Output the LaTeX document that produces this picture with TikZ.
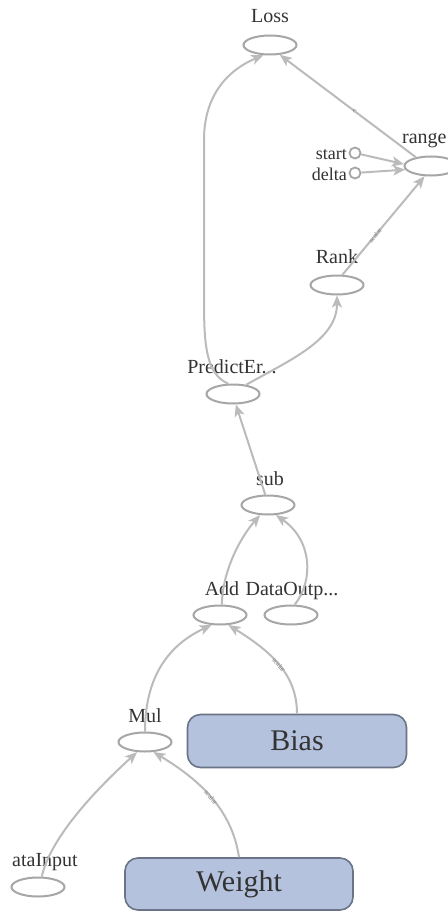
\documentclass[tikz,border=0pt]{standalone}
\usepackage{fontspec}
\setmainfont{Liberation Serif}
\usetikzlibrary{shapes.geometric,arrows.meta}
\definecolor{edgegray}{HTML}{BBBBBB}
\definecolor{opgray}{HTML}{A6A6A6}
\definecolor{boxfill}{HTML}{B4C2DD}
\definecolor{boxline}{HTML}{6B7487}
\definecolor{txt}{HTML}{333333}
\begin{document}
\begin{tikzpicture}[x=1pt,y=-1pt,
  op/.style={ellipse, draw=opgray, line width=2pt, minimum width=53pt, minimum height=19pt, inner sep=0pt},
  lbl/.style={font=\fontsize{20}{20}\selectfont, text=txt, inner sep=0pt, anchor=base},
  smlbl/.style={font=\fontsize{18}{18}\selectfont, text=txt, inner sep=0pt, anchor=base east},
  varbox/.style={rounded corners=13pt, draw=boxline, fill=boxfill, line width=1.6pt, font=\fontsize{30}{30}\selectfont, text=txt},
  edge/.style={draw=edgegray, line width=2pt, -{Stealth[length=12pt,width=10pt,inset=3pt]}},
  constc/.style={circle, draw=opgray, line width=1.8pt, minimum size=11pt, inner sep=0pt},
  elab/.style={font=\fontsize{7}{7}\selectfont, text=gray, sloped, inner sep=0pt}]
\useasboundingbox (0,0) rectangle (447,915);
\fill[white] (0,0) rectangle (447,915);
% operation nodes
\node[op] (Loss) at (270,45) {};
\node[lbl] (LossL) at (270,23) {Loss};
\node[op] (range) at (431,166) {};
\node[lbl, anchor=base west] (rangeL) at (402,143) {range};
\node[constc] (start) at (355,153) {};
\node[smlbl] (startL) at (347,159) {start};
\node[constc] (delta) at (355,173) {};
\node[smlbl] (deltaL) at (347,180) {delta};
\node[op] (Rank) at (337,285) {};
\node[lbl] (RankL) at (337,263) {Rank};
\node[op] (PE) at (233,394) {};
\node[lbl] (PEL) at (232,373) {PredictEr...};
\node[op] (sub) at (268,505) {};
\node[lbl] (subL) at (270,485) {sub};
\node[op] (Add) at (220,615) {};
\node[lbl] (AddL) at (222,595) {Add};
\node[op] (DO) at (291,615) {};
\node[lbl] (DOL) at (292,595) {DataOutp...};
\node[op] (Mul) at (145,742) {};
\node[lbl] (MulL) at (145,722) {Mul};
\node[op] (DI) at (38,887) {};
\node[lbl] (DIL) at (45,866) {ataInput};
% variable boxes
\node[varbox, minimum width=219pt, minimum height=53pt] (Bias) at (297,741) {Bias};
\node[varbox, minimum width=228pt, minimum height=52pt] (Weight) at (239,884) {Weight};
% edges
\draw[edge] (PE.115) .. controls (206,374) and (204,345) .. (204,300) -- (204,140) .. controls (204,95) and (228,70) .. (Loss.237);
\draw[edge] (range.150) -- node[elab, pos=0.45]{c} (Loss.-45);
\draw[edge] (start) -- (range.176);
\draw[edge] (delta) -- (range.188);
\draw[edge] (Rank.62) -- node[elab, pos=0.4]{scalar} (range.238);
\draw[edge] (PE.35) .. controls (290,360) and (337,340) .. (Rank.-90);
\draw[edge] (sub.105) -- (PE.-75);
\draw[edge] (Add.80) .. controls (222,575) and (238,540) .. (sub.232);
\draw[edge] (DO.70) .. controls (314,580) and (312,540) .. (sub.-52);
\draw[edge] (Mul.90) .. controls (145,685) and (162,648) .. (Add.230);
\draw[edge] (Bias.north) .. controls (297,675) and (272,652) .. node[elab, pos=0.5]{scalar} (Add.-50);
\draw[edge] (DI.70) .. controls (50,840) and (90,795) .. (Mul.232);
\draw[edge] (Weight.north) .. controls (232,810) and (200,780) .. node[elab, pos=0.5]{scalar} (Mul.-50);
\end{tikzpicture}
\end{document}
